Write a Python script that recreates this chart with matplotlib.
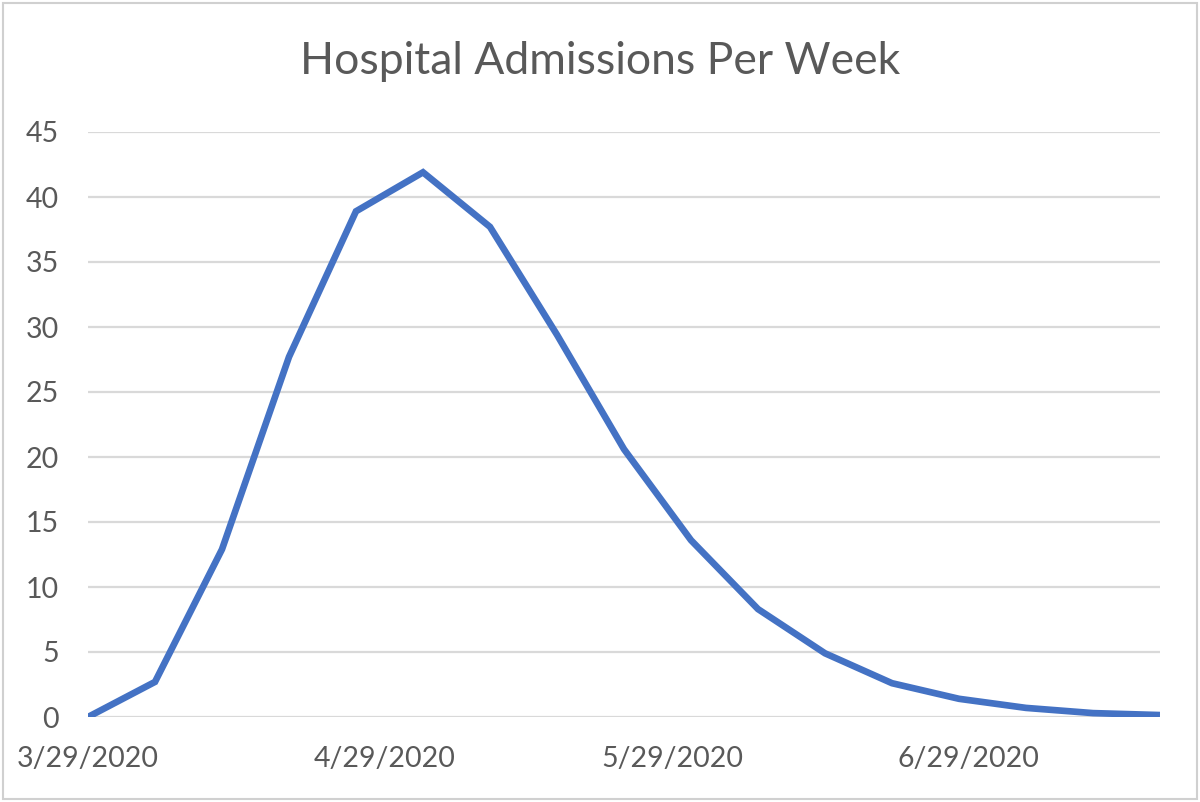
import matplotlib
matplotlib.use("Agg")
import matplotlib.pyplot as plt
import matplotlib.dates as mdates
from matplotlib.patches import Rectangle
import numpy as np
import datetime as dt

# weekly admissions
start = dt.date(2020, 3, 29)
weeks = [start + dt.timedelta(days=7 * i) for i in range(17)]
admissions = [0, 2.7, 12.9, 27.7, 38.9, 41.9, 37.7, 29.4, 20.6,
              13.6, 8.3, 4.9, 2.6, 1.4, 0.7, 0.3, 0.15]
tick_dates = [dt.date(2020, 3, 29), dt.date(2020, 4, 29),
              dt.date(2020, 5, 29), dt.date(2020, 6, 29)]
y_ticks = list(range(0, 50, 5))

gris = "#595959"
plt.rcParams['font.family'] = ['Lato', 'DejaVu Sans']

fig = plt.figure(figsize=(12, 8.02), dpi=100)
ax = fig.add_axes([88 / 1200, 1 - 717 / 802, (1160 - 88) / 1200, (717 - 132) / 802])

ax.plot(weeks, admissions, color="#4472C4", linewidth=4.8,
        solid_joinstyle="miter", solid_capstyle="butt", zorder=3)

ax.set_xlim(weeks[0], weeks[-1])
ax.set_ylim(0, 45)
ax.set_yticks(y_ticks)
ax.set_xticks(tick_dates)
ax.xaxis.set_major_formatter(
    plt.FuncFormatter(lambda v, p: "{d.month}/{d.day}/{d.year}".format(d=mdates.num2date(v))))

ax.grid(axis="y", color="#d9d9d9", linewidth=1.6, zorder=0)
ax.grid(axis="x", visible=False)
for s in ax.spines.values():
    s.set_visible(False)
ax.tick_params(axis="both", length=0, labelsize=20.5, colors=gris)
ax.tick_params(axis="y", pad=21)
ax.tick_params(axis="x", pad=21)
ax.set_axisbelow(True)

fig.text(0.5, 1 - 62 / 802, "Hospital Admissions Per Week", ha="center", va="center",
         fontsize=32, color=gris)

fig.patches.append(Rectangle((3 / 1200, 3 / 802), 1194 / 1200, 796 / 802,
                             transform=fig.transFigure, fill=False,
                             edgecolor="#d0d0d0", linewidth=1.5))

fig.savefig("out.png", dpi=100, facecolor="white")
